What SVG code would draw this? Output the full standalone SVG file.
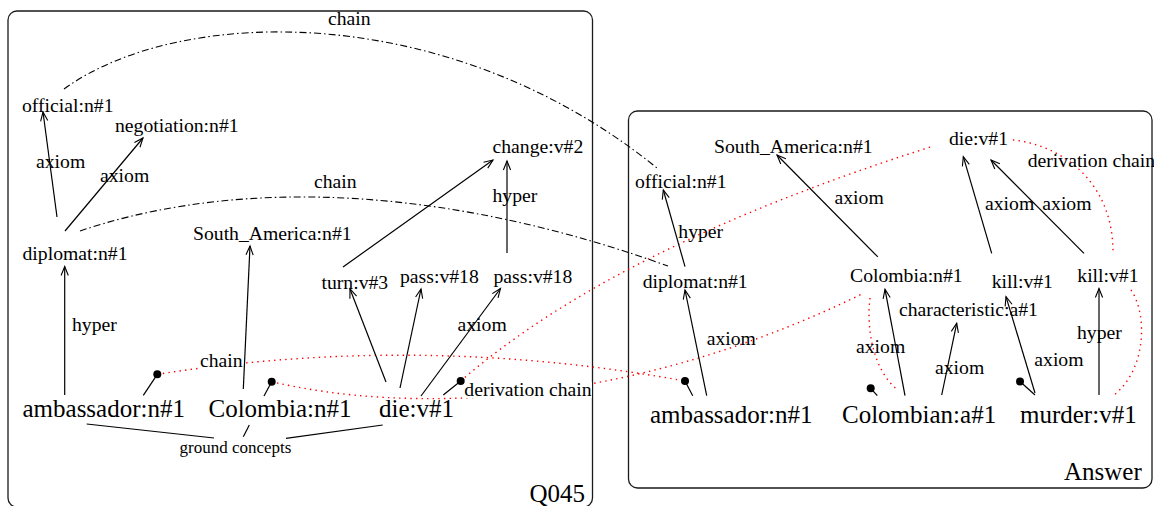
<svg xmlns="http://www.w3.org/2000/svg" width="1154" height="506" viewBox="0 0 1154 506">
  <defs>
    <marker id="vee" viewBox="-10 -5 12 10" markerWidth="12" markerHeight="10" refX="0" refY="0" orient="auto" markerUnits="userSpaceOnUse">
      <path d="M-9,-3.6 L0,0 L-9,3.6" fill="none" stroke="#000" stroke-width="1.1"/>
    </marker>
    <style>
      .box { fill: none; stroke: #1a1a1a; stroke-width: 1.3; }
      text { font-family: "Liberation Serif", "Times New Roman", serif; font-size: 19.7px; fill: #000; }
      .big { font-size: 25px; }
      .gc { font-size: 17px; }
      .edge { stroke: #000; stroke-width: 1.2; fill: none; }
      .arrow { marker-end: url(#vee); }
      .chain { stroke: #000; stroke-width: 1.1; fill: none; stroke-dasharray: 7 3 1.5 3; }
      .red { stroke: #ff0000; stroke-width: 1.4; fill: none; stroke-dasharray: 1.4 4.2; }
      .pin { fill: #000; }
      .bg { fill: #fff; }
    </style>
  </defs>

  <!-- containers -->
  <g id="box-q045">
    <rect class="box" x="8" y="11" width="584.5" height="496" rx="9"/>
    <text class="big" x="529.5" y="501.5">Q045</text>
  </g>
  <g id="box-answer">
    <rect class="box" x="628.5" y="111" width="523.5" height="377" rx="9"/>
    <text class="big" x="1064" y="480">Answer</text>
  </g>

  <g id="connectors">
    <!-- red dotted derivation links -->
    <path class="red" d="M157.3,374.3 Q420,333 685,381"/>
    <path class="red" d="M271.7,381.7 C400,412 620,412 862,294"/>
    <path class="red" d="M460.7,381 Q615,247 932,146.5"/>
    <path class="red" d="M1013,140 C1062,145 1113,182 1113,252"/>
    <path class="red" d="M1131,290 C1148,315 1146,370 1114,395"/>
    <path class="red" d="M870,298 C866,330 874,372 898,390"/>

    <!-- dash-dot chains -->
    <path class="chain" d="M64,89 C180,5 450,0 657,168"/>
    <path class="chain" d="M80,231 C200,190 400,170 668,266"/>

    <!-- label backgrounds over dotted links -->
    <rect class="bg" x="199" y="352" width="44" height="18"/>
    <rect class="bg" x="463" y="382" width="129" height="16"/>

    <!-- Q045 arrows -->
    <path class="edge arrow" d="M57,217 L43,112"/>
    <path class="edge arrow" d="M65,231 L143,138"/>
    <path class="edge arrow" d="M64.7,395 L64.7,266.5"/>
    <path class="edge arrow" d="M243.3,389 L250,246"/>
    <path class="edge arrow" d="M343,267 L493,160"/>
    <path class="edge arrow" d="M507,253 L507,161"/>
    <path class="edge arrow" d="M386,382 L350,289"/>
    <path class="edge arrow" d="M400,388 L421,289"/>
    <path class="edge arrow" d="M421,396 L500.5,288.5"/>

    <!-- ground concept pointers -->
    <path class="edge" d="M86.7,424 L214,438"/>
    <path class="edge" d="M249.3,425 L243.3,436.7"/>
    <path class="edge" d="M286,438.3 L382.7,425"/>

    <!-- Answer arrows -->
    <path class="edge arrow" d="M685,266.7 L663.3,190"/>
    <path class="edge arrow" d="M706.7,395.7 L685,290"/>
    <path class="edge arrow" d="M877.8,256.9 L777,155"/>
    <path class="edge arrow" d="M991.7,253.3 L963.3,156.7"/>
    <path class="edge arrow" d="M1084,253.3 L991,160"/>
    <path class="edge arrow" d="M905,395.7 L885,289.3"/>
    <path class="edge arrow" d="M941.7,395 L956.7,323.3"/>
    <path class="edge arrow" d="M1035,393 L1006,296.7"/>
    <path class="edge arrow" d="M1099,395 L1099,288.5"/>

    <!-- pins -->
    <path class="edge" d="M157.3,374.3 L143.3,395.3"/>
    <circle class="pin" cx="157.3" cy="374.3" r="4"/>
    <path class="edge" d="M271.7,381.7 L264,396"/>
    <circle class="pin" cx="271.7" cy="381.7" r="4"/>
    <path class="edge" d="M460.7,381 L443.3,395"/>
    <circle class="pin" cx="460.7" cy="381" r="4"/>
    <path class="edge" d="M685,381 L692.7,395.7"/>
    <circle class="pin" cx="685" cy="381" r="4"/>
    <path class="edge" d="M870.7,388.3 L877.3,395.7"/>
    <circle class="pin" cx="870.7" cy="388.3" r="4"/>
    <path class="edge" d="M1020,381.5 L1035,395"/>
    <circle class="pin" cx="1020" cy="381.5" r="4"/>

    <!-- edge labels -->
    <text x="36" y="167.5">axiom</text>
    <text x="100" y="181.5">axiom</text>
    <text x="328" y="25">chain</text>
    <text x="314" y="188">chain</text>
    <text x="72" y="331">hyper</text>
    <text x="492.5" y="201.5">hyper</text>
    <text x="457.5" y="331">axiom</text>
    <text x="200" y="366.7">chain</text>
    <text x="464.3" y="395.7">derivation chain</text>
    <text x="678.3" y="237.7">hyper</text>
    <text x="706.7" y="345.3">axiom</text>
    <text x="834.5" y="203.5">axiom</text>
    <text x="1027.7" y="167.3">derivation chain</text>
    <text x="985" y="210">axiom</text>
    <text x="1042.3" y="210">axiom</text>
    <text x="856" y="352.7">axiom</text>
    <text x="935" y="374">axiom</text>
    <text x="1034.3" y="366">axiom</text>
    <text x="1077" y="339.3">hyper</text>
  </g>

  <!-- Q045 nodes -->
  <g id="q-official"><text x="22" y="111.5">official:n#1</text></g>
  <g id="q-negotiation"><text x="115" y="132">negotiation:n#1</text></g>
  <g id="q-diplomat"><text x="22.5" y="260">diplomat:n#1</text></g>
  <g id="q-south-america"><text x="193" y="239.5">South_America:n#1</text></g>
  <g id="q-change"><text x="492.5" y="152.5">change:v#2</text></g>
  <g id="q-turn"><text x="321.5" y="288.5">turn:v#3</text></g>
  <g id="q-pass-1"><text x="400" y="282.5">pass:v#18</text></g>
  <g id="q-pass-2"><text x="493.5" y="282.5">pass:v#18</text></g>
  <g id="q-ambassador"><text class="big" x="22.5" y="416.5">ambassador:n#1</text></g>
  <g id="q-colombia"><text class="big" x="208.5" y="416.5">Colombia:n#1</text></g>
  <g id="q-die"><text class="big" x="379" y="416.5">die:v#1</text></g>
  <g id="q-ground"><text class="gc" x="179.5" y="452.5">ground concepts</text></g>

  <!-- Answer nodes -->
  <g id="a-south-america"><text x="714" y="152.7">South_America:n#1</text></g>
  <g id="a-die"><text x="949" y="145">die:v#1</text></g>
  <g id="a-official"><text x="635" y="188.3">official:n#1</text></g>
  <g id="a-diplomat"><text x="642.7" y="288.3">diplomat:n#1</text></g>
  <g id="a-colombia"><text x="850" y="281.7">Colombia:n#1</text></g>
  <g id="a-kill-1"><text x="991.7" y="288.3">kill:v#1</text></g>
  <g id="a-kill-2"><text x="1077.3" y="281.7">kill:v#1</text></g>
  <g id="a-characteristic"><text x="899" y="315.7">characteristic:a#1</text></g>
  <g id="a-ambassador"><text class="big" x="650" y="423.3">ambassador:n#1</text></g>
  <g id="a-colombian"><text class="big" x="842" y="423.3">Colombian:a#1</text></g>
  <g id="a-murder"><text class="big" x="1020" y="423.3">murder:v#1</text></g>
</svg>
